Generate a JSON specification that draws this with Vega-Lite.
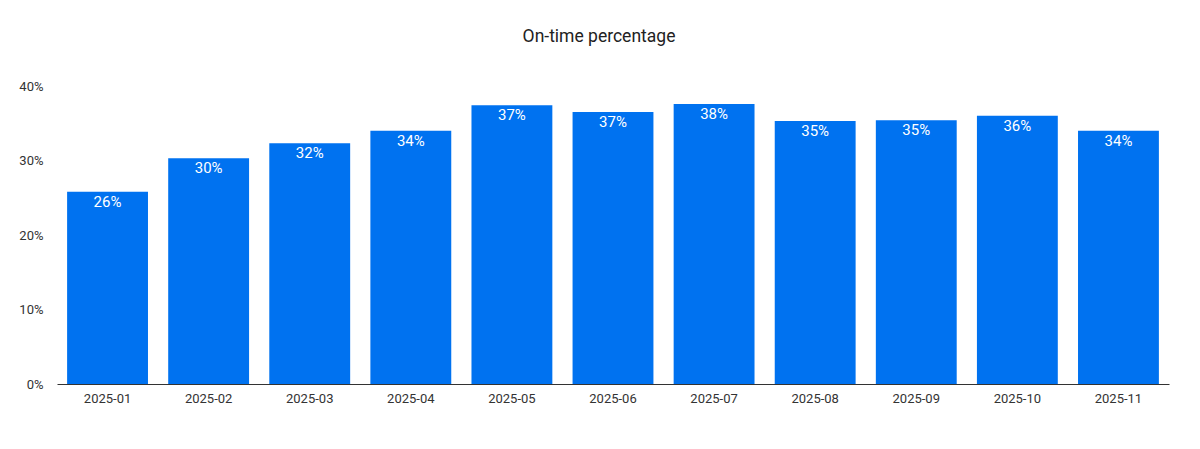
{
  "$schema": "https://vega.github.io/schema/vega-lite/v6.json",
  "autosize": "none",
  "width": 1112,
  "height": 298,
  "padding": {"left": 57, "top": 86, "right": 31, "bottom": 65},
  "background": "#ffffff",
  "title": {
    "text": "On-time percentage",
    "font": "Roboto",
    "fontSize": 17.5,
    "fontWeight": "normal",
    "color": "#222222",
    "anchor": "middle",
    "offset": 35,
    "dx": -14
  },
  "config": {"view": {"stroke": null}},
  "data": {
    "values": [
      {"month": "2025-01", "pct": 0.258},
      {"month": "2025-02", "pct": 0.303},
      {"month": "2025-03", "pct": 0.323},
      {"month": "2025-04", "pct": 0.340},
      {"month": "2025-05", "pct": 0.374},
      {"month": "2025-06", "pct": 0.365},
      {"month": "2025-07", "pct": 0.376},
      {"month": "2025-08", "pct": 0.353},
      {"month": "2025-09", "pct": 0.354},
      {"month": "2025-10", "pct": 0.360},
      {"month": "2025-11", "pct": 0.340}
    ]
  },
  "encoding": {
    "x": {
      "field": "month",
      "type": "ordinal",
      "sort": null,
      "scale": {"paddingInner": 0.2, "paddingOuter": 0.1},
      "axis": {
        "title": null,
        "labelAngle": 0,
        "labelFont": "Roboto",
        "labelFontSize": 13,
        "labelColor": "#333333",
        "ticks": false,
        "labelPadding": 8,
        "domainColor": "#333333",
        "domainWidth": 1,
        "grid": false
      }
    },
    "y": {
      "field": "pct",
      "type": "quantitative",
      "scale": {"domain": [0, 0.4]},
      "axis": {
        "title": null,
        "format": ".0%",
        "values": [0, 0.1, 0.2, 0.3, 0.4],
        "labelFont": "Roboto",
        "labelFontSize": 13,
        "labelColor": "#333333",
        "ticks": false,
        "domain": false,
        "grid": false,
        "labelPadding": 14
      }
    }
  },
  "layer": [
    {"mark": {"type": "bar", "color": "#0072F0"}},
    {
      "mark": {
        "type": "text",
        "baseline": "top",
        "dy": 3,
        "color": "#ffffff",
        "font": "Roboto",
        "fontSize": 15
      },
      "encoding": {
        "text": {"field": "pct", "type": "quantitative", "format": ".0%"}
      }
    }
  ]
}
